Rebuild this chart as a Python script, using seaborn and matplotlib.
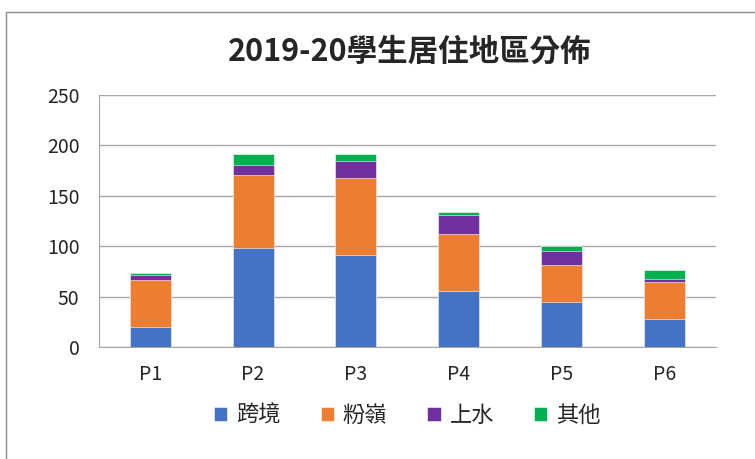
import numpy as np
import pandas as pd
import seaborn as sns
import matplotlib.pyplot as plt
from matplotlib.patches import Rectangle

# data
grades = ['P1', 'P2', 'P3', 'P4', 'P5', 'P6']
cross_border = [20, 98, 91, 56, 45, 28]   # 跨境
fanling = [46, 73, 77, 56, 36, 36]        # 粉嶺
sheung_shui = [5, 10, 17, 19, 14, 3]      # 上水
others = [2, 10, 6, 3, 5, 9]              # 其他

series = ['跨境', '粉嶺', '上水', '其他']
colors = ['#4472C4', '#ED7D31', '#7030A0', '#00B050']

df = pd.DataFrame({'grade': grades, '跨境': cross_border, '粉嶺': fanling,
                   '上水': sheung_shui, '其他': others})
# cumulative sums so the stacks can be drawn back to front
cum = df[series].cumsum(axis=1)
cum['grade'] = df['grade']

sns.set_style('white')
plt.rcParams['font.family'] = ['Noto Sans CJK TC', 'DejaVu Sans']

fig = plt.figure(figsize=(7.55, 4.59), dpi=100)
ax = fig.add_axes([0.131, 0.244, 0.817, 0.549])

for name, col in reversed(list(zip(series, colors))):
    sns.barplot(data=cum, x='grade', y=name, color=col, width=0.4,
                saturation=1, ax=ax, label=name, edgecolor='white', linewidth=0.4)

ax.set_ylim(0, 250)
ax.set_yticks(range(0, 251, 50))
ax.set_xlim(-0.5, 5.5)
ax.yaxis.grid(True, color='#a6a6a6', linewidth=1)
ax.set_axisbelow(True)
ax.set_xlabel('')
ax.set_ylabel('')
for s in ['top', 'right']:
    ax.spines[s].set_visible(False)
for s in ['left', 'bottom']:
    ax.spines[s].set_color('#a6a6a6')
ax.tick_params(axis='y', length=6, color='#a6a6a6', labelsize=14, pad=8)
ax.tick_params(axis='x', length=0, labelsize=14, pad=12)
# category separator ticks on the x axis
ax.set_xticks(np.arange(-0.5, 6, 1), minor=True)
ax.tick_params(axis='x', which='minor', length=6, color='#a6a6a6', direction='out')

handles, labels = ax.get_legend_handles_labels()
order = [labels.index(s) for s in series]
ax.legend([handles[i] for i in order], series, loc='upper center',
          bbox_to_anchor=(0.5, -0.145), ncol=4, frameon=False, fontsize=16,
          handlelength=0.6, handleheight=0.6, handletextpad=0.4, columnspacing=1.8)

fig.text(0.543, 0.888, '2019-20學生居住地區分佈', ha='center', va='center',
         fontsize=22, fontweight='bold')

fig.patches.append(Rectangle((0.008, -0.01), 1.1, 0.984, transform=fig.transFigure,
                             fill=False, edgecolor='#8c8c8c', linewidth=1))

fig.savefig('out.png', dpi=100)
